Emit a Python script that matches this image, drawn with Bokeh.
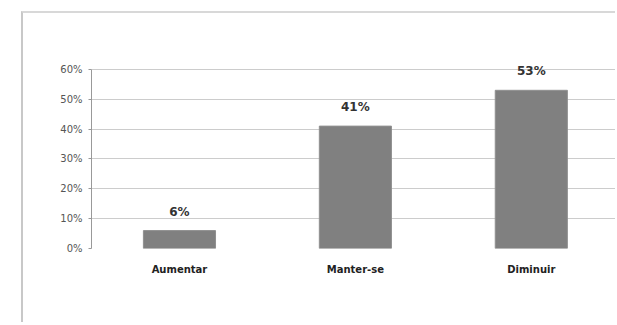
from bokeh.plotting import figure
from bokeh.models import Range1d, FixedTicker, NumeralTickFormatter, ColumnDataSource, LabelSet
from bokeh.core.properties import value
from bokeh.embed import file_html
from bokeh.resources import INLINE

categories = ["Aumentar", "Manter-se", "Diminuir"]
values = [0.06, 0.41, 0.53]
labels = ["6%", "41%", "53%"]
y_ticks = [0, 0.1, 0.2, 0.3, 0.4, 0.5, 0.6]

xpos = [i + 0.5 for i in range(len(categories))]
src = ColumnDataSource(dict(x=xpos, top=values, lab=labels))

p = figure(width=594, height=311, output_backend="svg", toolbar_location=None,
           x_range=Range1d(0, 2.99), y_range=Range1d(0, 0.66),
           min_border_left=68, min_border_top=38, min_border_bottom=76, min_border_right=0)
p.margin = (11, 0, 0, 21)
p.styles = {"border-left": "2px solid #c8c8c8", "border-top": "2px solid #d8d8d8"}
p.outline_line_color = None
p.background_fill_color = "white"

p.vbar(x="x", top="top", bottom=0, width=0.41, source=src,
       fill_color="#808080", line_color="#909090")
p.add_layout(LabelSet(x="x", y="top", text="lab", source=src, text_align="center",
                      text_baseline="bottom", y_offset=12, text_font=value("DejaVu Sans"),
                      text_font_style="bold", text_font_size="12px", text_color="#333333"))

p.yaxis.ticker = FixedTicker(ticks=y_ticks)
p.yaxis.bounds = (0, 0.6)
p.yaxis.formatter = NumeralTickFormatter(format="0%")
p.yaxis.major_label_text_font = "DejaVu Sans"
p.yaxis.major_label_text_font_size = "10px"
p.yaxis.major_label_text_color = "#555555"
p.yaxis.major_label_standoff = 6
p.yaxis.axis_line_color = "#999999"
p.yaxis.major_tick_line_color = "#999999"
p.yaxis.major_tick_in = 0
p.yaxis.major_tick_out = 3
p.yaxis.minor_tick_line_color = None

p.xaxis.ticker = FixedTicker(ticks=xpos)
p.xaxis.major_label_overrides = {x: c for x, c in zip(xpos, categories)}
p.xaxis.major_label_text_font = "DejaVu Sans"
p.xaxis.major_label_text_font_style = "bold"
p.xaxis.major_label_text_font_size = "10px"
p.xaxis.major_label_text_color = "#222222"
p.xaxis.axis_line_color = None
p.xaxis.major_tick_line_color = None
p.xaxis.minor_tick_line_color = None
p.xaxis.major_label_standoff = 9

p.xgrid.grid_line_color = None
p.ygrid.ticker = FixedTicker(ticks=y_ticks)
p.ygrid.grid_line_color = "#cccccc"
p.ygrid.grid_line_width = 1

open("out.html", "w").write(file_html(p, INLINE))
